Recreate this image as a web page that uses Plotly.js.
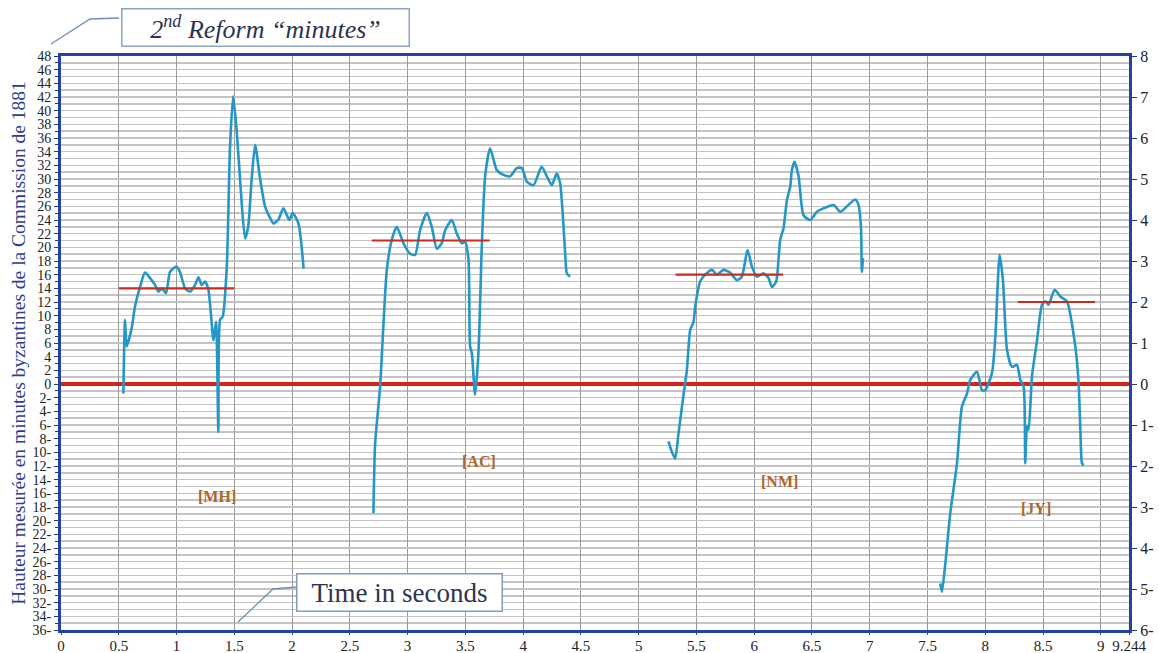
<!DOCTYPE html>
<html>
<head>
<meta charset="utf-8">
<script src="https://cdn.plot.ly/plotly-3.0.1.min.js"></script>
<style>html,body{margin:0;padding:0;background:#fff}#chart{width:1159px;height:653px}</style>
</head>
<body>
<div id="chart"></div>
<script>
// ---- Data (time in seconds, height in Byzantine minutes) ----
const mhTime = [0.54,0.554,0.569,0.612,0.64,0.684,0.727,0.771,0.814,0.843,0.872,0.909,0.944,1.0,1.03,1.074,1.117,1.16,1.19,1.218,1.247,1.276,1.32,1.342,1.362,1.377,1.4,1.435,1.463,1.49,1.52,1.556,1.593,1.62,1.65,1.68,1.72,1.766,1.81,1.838,1.88,1.925,1.977,2.006,2.055,2.1];
const mhHeight = [-1.4,9.4,5.5,8.2,11.3,14.2,16.3,15.5,14.5,13.5,14.0,13.3,16.4,17.2,16.4,14.0,13.5,14.5,15.6,14.5,15.0,13.8,6.4,9.1,-7.0,9.4,9.9,17.2,34.7,42.1,37.2,28.4,21.3,23.0,29.9,35.0,30.4,26.0,24.3,23.5,24.0,25.7,24.0,25.0,23.5,16.9];

const acTime = [2.704,2.719,2.762,2.79,2.82,2.863,2.906,2.964,3.02,3.065,3.108,3.166,3.209,3.253,3.296,3.325,3.383,3.426,3.469,3.498,3.527,3.541,3.556,3.584,3.613,3.642,3.671,3.714,3.772,3.83,3.887,3.945,3.989,4.032,4.09,4.16,4.205,4.248,4.29,4.32,4.364,4.378,4.407];
const acHeight = [-18.9,-8.7,-0.4,8.4,16.7,21.1,23.0,20.6,19.1,18.9,22.5,25.0,23.0,19.8,20.6,22.5,24.0,22.0,20.6,20.8,18.2,5.5,4.5,-1.6,4.5,20.1,30.4,34.5,31.3,30.6,30.4,31.6,31.6,29.6,29.1,31.8,30.4,29.1,30.8,29.4,19.1,16.2,15.7];

const nmTime = [5.258,5.287,5.316,5.345,5.388,5.417,5.446,5.475,5.489,5.532,5.576,5.634,5.677,5.734,5.792,5.85,5.893,5.942,5.98,6.023,6.08,6.124,6.153,6.19,6.225,6.254,6.283,6.312,6.326,6.349,6.384,6.427,6.485,6.543,6.6,6.687,6.745,6.803,6.874,6.903,6.924,6.932,6.941];
const nmHeight = [-8.4,-9.9,-10.9,-7.2,-1.6,2.0,7.9,9.1,11.3,15.0,16.0,16.7,16.0,16.7,16.3,15.2,15.7,19.6,17.2,15.7,16.2,15.5,14.2,15.0,21.1,22.8,26.9,28.9,31.3,32.5,30.4,24.7,24.0,25.2,25.7,26.2,25.2,26.0,27.0,26.2,23.0,16.4,18.4];

const jyTime = [7.61,7.625,7.654,7.697,7.755,7.798,7.842,7.87,7.928,7.972,8.0,8.058,8.087,8.124,8.153,8.188,8.231,8.274,8.303,8.332,8.346,8.361,8.375,8.404,8.448,8.491,8.52,8.548,8.6,8.65,8.707,8.779,8.808,8.823,8.837,8.852];
const jyHeight = [-29.2,-30.4,-26.3,-18.9,-11.6,-3.3,-1.4,0.6,1.8,-0.9,-0.9,1.6,6.9,18.9,15.2,5.0,2.5,2.8,0.6,-0.4,-11.6,-6.2,-6.7,1.1,6.4,11.6,12.1,11.6,13.8,12.8,12.1,5.5,0.1,-6.7,-11.6,-11.9];

// mean reference segments: [start, end] and level
const speakers = ["[MH]", "[AC]", "[NM]", "[JY]"];
const meanStart = [0.5, 2.69, 5.32, 8.28];
const meanEnd = [1.5, 3.71, 6.25, 8.95];
const meanLevel = [14, 21, 16, 12];
const labelTime = [1.35, 3.62, 6.22, 8.44];
const labelHeight = [-16.5, -11.4, -14.2, -18.2];

// axis ticks
const xTickVals = [0,0.5,1,1.5,2,2.5,3,3.5,4,4.5,5,5.5,6,6.5,7,7.5,8,8.5,9,9.244];
const xTickText = ["0","0.5","1","1.5","2","2.5","3","3.5","4","4.5","5","5.5","6","6.5","7","7.5","8","8.5","9","9.244"];
const yLeftVals = [48,46,44,42,40,38,36,34,32,30,28,26,24,22,20,18,16,14,12,10,8,6,4,2,0,-2,-4,-6,-8,-10,-12,-14,-16,-18,-20,-22,-24,-26,-28,-30,-32,-34,-36];
const yLeftText = yLeftVals.map(v => v < 0 ? (-v) + "-" : String(v));
const yRightVals = [8,7,6,5,4,3,2,1,0,-1,-2,-3,-4,-5,-6];
const yRightText = yRightVals.map(v => v < 0 ? (-v) + "-" : String(v));

const blue = '#2597c6';
const red = '#d2231c';
const axisBlue = '#2342a3';

const curves = [[mhTime, mhHeight], [acTime, acHeight], [nmTime, nmHeight], [jyTime, jyHeight]];
const traces = [];
curves.forEach((c, i) => {
  traces.push({x: c[0], y: c[1], type: 'scatter', mode: 'lines', line: {color: blue, width: 2.6, shape: 'spline', smoothing: 0.6}, hoverinfo: 'skip', showlegend: false});
});
speakers.forEach((s, i) => {
  traces.push({x: [meanStart[i], meanEnd[i]], y: [meanLevel[i], meanLevel[i]], type: 'scatter', mode: 'lines', line: {color: '#cc2a22', width: 2.2}, showlegend: false, hoverinfo: 'skip'});
});
// invisible trace so the right axis is drawn
traces.push({x: [0], y: [0], yaxis: 'y2', type: 'scatter', mode: 'markers', marker: {opacity: 0}, showlegend: false, hoverinfo: 'skip'});

const L = 61, R = 1129, T = 56, B = 630;
const px = x => (x - L) / (R - L);
const py = y => (B - y) / (B - T);

const annotations = speakers.map((s, i) => ({
  x: labelTime[i], y: labelHeight[i], xref: 'x', yref: 'y', text: s, showarrow: false,
  font: {family: 'Liberation Serif, serif', size: 16, color: '#b0652a', weight: 'bold'}
}));
annotations.push({
  x: px(265), y: py(28), xref: 'paper', yref: 'paper', xanchor: 'center', yanchor: 'middle', showarrow: false,
  text: '2<sup>nd</sup> Reform “minutes”', width: 284, height: 34, align: 'center', valign: 'middle',
  bordercolor: '#8aa4c8', borderwidth: 1.5, borderpad: 1, bgcolor: '#ffffff',
  font: {family: 'Liberation Serif, serif', size: 26, color: '#2b3550', style: 'italic'}
});
annotations.push({
  x: px(399.5), y: py(592), xref: 'paper', yref: 'paper', xanchor: 'center', yanchor: 'middle', showarrow: false,
  text: 'Time in seconds', width: 202, height: 34, align: 'center', valign: 'middle',
  bordercolor: '#7f9cc4', borderwidth: 1.5, borderpad: 1, bgcolor: '#ffffff',
  font: {family: 'Liberation Serif, serif', size: 27, color: '#2b3550'}
});

const shapes = [
  {type: 'path', xref: 'paper', yref: 'paper', path: `M ${px(119)} ${py(18)} L ${px(90)} ${py(19)} L ${px(51)} ${py(44)}`, line: {color: '#6f8fba', width: 1.3}},
  {type: 'path', xref: 'paper', yref: 'paper', path: `M ${px(297)} ${py(587)} L ${px(273)} ${py(589)} L ${px(238)} ${py(622)}`, line: {color: '#6f8fba', width: 1.3}}
];

const layout = {
  width: 1159, height: 653,
  margin: {l: L, r: 1159 - R, t: T, b: 653 - B, pad: 0},
  paper_bgcolor: '#ffffff', plot_bgcolor: '#ffffff',
  showlegend: false,
  font: {family: 'Liberation Serif, serif', color: '#222'},
  xaxis: {
    range: [0, 9.244], tickmode: 'array', tickvals: xTickVals, ticktext: xTickText,
    showgrid: true, gridcolor: '#9a9a9a', gridwidth: 1,
    showline: true, linecolor: axisBlue, linewidth: 3, mirror: true,
    ticks: 'outside', ticklen: 2, tickcolor: '#555',
    tickfont: {family: 'Liberation Serif, serif', size: 15, color: '#222'},
    ticklabelstandoff: -2,
    zeroline: false, fixedrange: true
  },
  yaxis: {
    range: [-36, 48], tickmode: 'array', tickvals: yLeftVals, ticktext: yLeftText,
    showgrid: true, gridcolor: '#c4c4c4', gridwidth: 1.5,
    minor: {tick0: 0, dtick: 1, showgrid: true, gridcolor: '#c4c4c4', gridwidth: 1.5, ticks: 'outside', ticklen: 3, tickcolor: '#1d3c7a'},
    showline: true, linecolor: axisBlue, linewidth: 3,
    ticks: 'outside', ticklen: 4, tickcolor: '#1d3c7a',
    tickfont: {family: 'Liberation Serif, serif', size: 14, color: '#222'},
    zeroline: true, zerolinecolor: red, zerolinewidth: 3.5,
    title: {text: 'Hauteur mesurée en minutes byzantines de la Commission de 1881', standoff: 2,
      font: {family: 'Liberation Serif, serif', size: 19.5, color: '#2c3f8c'}},
    fixedrange: true
  },
  yaxis2: {
    overlaying: 'y', side: 'right', range: [-6, 8], tickmode: 'array', tickvals: yRightVals, ticktext: yRightText,
    showgrid: false, zeroline: false,
    showline: true, linecolor: axisBlue, linewidth: 3,
    ticks: 'outside', ticklen: 5, tickcolor: '#1d3c7a',
    tickfont: {family: 'Liberation Serif, serif', size: 16, color: '#222'},
    fixedrange: true
  },
  annotations: annotations,
  shapes: shapes
};

Plotly.newPlot('chart', traces, layout, {displayModeBar: false, staticPlot: true});
</script>
</body>
</html>
